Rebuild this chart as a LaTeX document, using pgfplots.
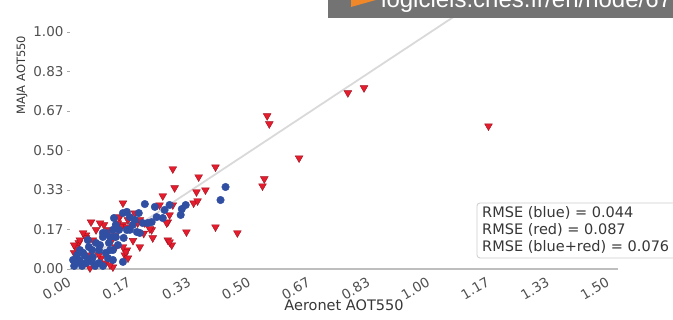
\documentclass[border=0pt]{standalone}
\usepackage{pgfplots}
\pgfplotsset{compat=1.18}
\usepackage{fontspec}
\setmainfont{DejaVu Sans}
\newfontfamily\bannerfont{Liberation Sans}
\definecolor{redpt}{RGB}{228,28,45}
\definecolor{bluept}{RGB}{48,78,162}
\definecolor{tickgray}{RGB}{80,80,80}
\definecolor{labgray}{RGB}{55,55,55}
\definecolor{spine}{RGB}{190,190,190}
\definecolor{banner}{RGB}{115,115,115}
\definecolor{bannerorange}{RGB}{240,135,40}
\begin{document}
\begin{tikzpicture}[x=1pt,y=1pt]
\begin{axis}[
  at={(70pt,51pt)}, anchor=south west,
  scale only axis, width=548pt, height=269pt,
  xmin=-0.0056, xmax=1.522, ymin=0, ymax=1.135,
  axis x line*=bottom, axis y line*=left,
  x axis line style={spine, line width=2.2pt, -},
  y axis line style={draw=none},
  xtick={0,0.16667,0.33333,0.5,0.66667,0.83333,1,1.16667,1.33333,1.5},
  xticklabels={0.00,0.17,0.33,0.50,0.67,0.83,1.00,1.17,1.33,1.50},
  ytick={0,0.16667,0.33333,0.5,0.66667,0.83333,1},
  yticklabels={0.00,0.17,0.33,0.50,0.67,0.83,1.00},
  tick align=outside, major tick length=3pt,
  xtick style={draw=none},
  ytick style={tickgray!50, line width=0.8pt},
  xticklabel style={rotate=30, anchor=north east, text=tickgray, font=\fontsize{13.5}{15}\selectfont, xshift=-3pt, yshift=2pt},
  yticklabel style={text=tickgray, font=\fontsize{13.5}{15}\selectfont},
  xlabel={Aeronet AOT550}, ylabel={MAJA AOT550},
  every axis x label/.style={at={(axis description cs:0.5,-0.1338)}, anchor=center, text=labgray, font=\fontsize{14.5}{16}\selectfont},
  every axis y label/.style={at={(axis description cs:-0.0876,0.721)}, anchor=center, rotate=90, text=labgray, font=\fontsize{11.5}{13}\selectfont},
  clip=false,
]
\addplot[draw=gray!30, line width=1.8pt] coordinates {(0,0) (1.135,1.135)};
\addplot[only marks, mark=triangle*, mark size=4.5pt, mark options={rotate=180, fill=redpt, draw=redpt!70!black, line width=0.4pt}] coordinates {
(1.161,0.603) (0.814,0.764) (0.769,0.743) (0.544,0.646) (0.550,0.612) (0.633,0.468) (0.536,0.380) (0.531,0.350) (0.461,0.152) (0.400,0.177) (0.400,0.430) (0.281,0.422) (0.353,0.388) (0.286,0.342) (0.372,0.333) (0.347,0.325) (0.253,0.308) (0.339,0.278) (0.350,0.287) (0.281,0.270) (0.142,0.278) (0.175,0.236) (0.272,0.228) (0.267,0.198) (0.203,0.194) (0.133,0.219) (0.142,0.186) (0.319,0.156) (0.225,0.131) (0.189,0.093) (0.153,0.080) (0.147,0.059) (0.267,0.122) (0.278,0.101) (0.053,0.198) (0.039,0.143) (0.019,0.110) (0.006,0.068) (0.011,0.038) (0.103,0.165) (0.089,0.186) (0.058,0.122) (0.122,0.093) (0.094,0.025) (0.067,0.017) (0.114,0.008) (0.039,0.131) (0.011,0.089) (0.150,0.072) (0.156,0.046) (0.131,0.219) (0.156,0.207) (0.183,0.194) (0.136,0.177) (0.244,0.270) (0.189,0.207) (0.222,0.165) (0.264,0.194) (0.153,0.177) (0.128,0.194) (0.078,0.194) (0.031,0.152) (0.022,0.122) (0.142,0.093) (0.272,0.114) (0.217,0.169) (0.081,0.046) (0.044,0.059) (0.106,0.017) (0.050,0.004) (0.006,0.101) (0.067,0.165) (0.111,0.122) (0.030,0.020) (0.075,0.060) (0.120,0.140) (0.200,0.150) (0.170,0.120)
};
\addplot[only marks, mark=*, mark size=3.8pt, mark options={fill=bluept, draw=bluept}] coordinates {
(0.428,0.346) (0.414,0.291) (0.306,0.253) (0.303,0.228) (0.258,0.249) (0.231,0.262) (0.203,0.274) (0.236,0.219) (0.222,0.198) (0.153,0.241) (0.169,0.186) (0.153,0.165) (0.181,0.156) (0.142,0.030) (0.142,0.236) (0.161,0.219) (0.186,0.236) (0.197,0.194) (0.211,0.194) (0.253,0.215) (0.189,0.152) (0.161,0.165) (0.114,0.165) (0.106,0.135) (0.086,0.152) (0.117,0.215) (0.122,0.186) (0.131,0.165) (0.094,0.152) (0.122,0.135) (0.039,0.025) (0.019,0.038) (0.011,0.025) (0.058,0.051) (0.075,0.080) (0.067,0.110) (0.086,0.135) (0.103,0.110) (0.094,0.068) (0.114,0.038) (0.075,0.025) (0.047,0.093) (0.031,0.068) (0.114,0.080) (0.003,0.038) (0.022,0.030) (0.006,0.013) (0.028,0.013) (0.050,0.038) (0.064,0.013) (0.086,0.013) (0.036,0.055) (0.056,0.080) (0.078,0.101) (0.022,0.080) (0.044,0.122) (0.100,0.046) (0.128,0.101) (0.144,0.131) (0.175,0.207) (0.272,0.270) (0.317,0.270) (0.014,0.059) (0.056,0.030) (0.106,0.080)
};
\end{axis}
% RMSE box
\draw[gray!40, fill=white, rounded corners=3pt, line width=0.8pt] (477,62) rectangle (700,117);
\begin{scope}[every node/.style={anchor=base west, inner sep=0pt, text=labgray, font=\fontsize{14.5}{17}\selectfont}]
\node at (482,102) {RMSE (blue) = 0.044};
\node at (482,85) {RMSE (red) = 0.087};
\node at (482,68) {RMSE (blue+red) = 0.076};
\end{scope}
% banner
\fill[banner] (328,302) rectangle (700,340);
\fill[bannerorange] (351,313) -- (351,335) -- (390,324) -- cycle;
\node[anchor=base west, inner sep=0pt, text=white, font=\bannerfont\fontsize{24}{24}\selectfont] at (381,312) {logiciels.cnes.fr/en/node/67};
\pgfresetboundingbox
\useasboundingbox (0,0) rectangle (673,320);
\end{tikzpicture}
\end{document}
